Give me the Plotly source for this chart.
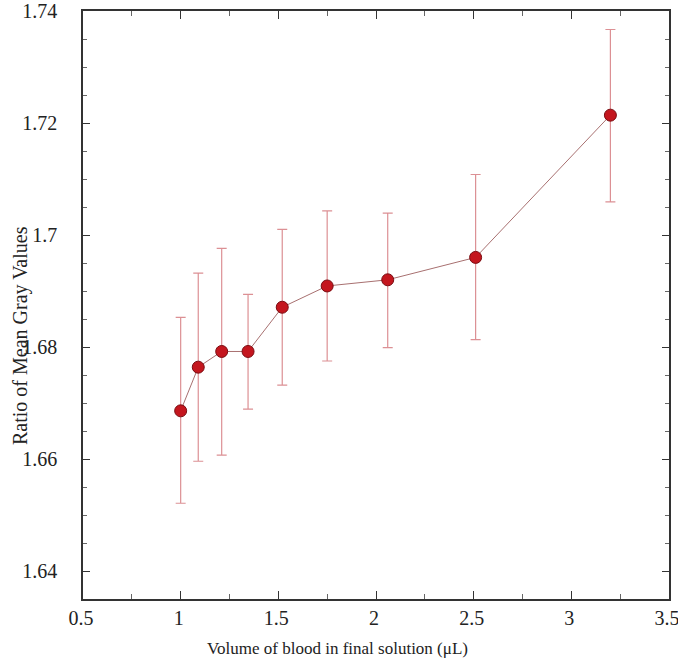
import plotly.graph_objects as go

volume_ul = [1.0, 1.09, 1.21, 1.345, 1.52, 1.75, 2.06, 2.51, 3.2]
ratio_mean = [1.6686, 1.6764, 1.6792, 1.6792, 1.6871, 1.6909, 1.6920, 1.6960, 1.7214]
err_upper = [1.6853, 1.6932, 1.6976, 1.6894, 1.7010, 1.7043, 1.7039, 1.7108, 1.7367]
err_lower = [1.6521, 1.6596, 1.6607, 1.6689, 1.6732, 1.6775, 1.6799, 1.6813, 1.7059]

x_title = "Volume of blood in final solution (μL)"
y_title = "Ratio of Mean Gray Values"

plus = [u - m for u, m in zip(err_upper, ratio_mean)]
minus = [m - l for m, l in zip(ratio_mean, err_lower)]

fig = go.Figure()
fig.add_trace(go.Scatter(
    x=volume_ul, y=ratio_mean, mode="lines+markers",
    line=dict(color="#a87070", width=1),
    marker=dict(color="#c4161e", size=12, line=dict(color="#7a0d12", width=1)),
    error_y=dict(type="data", symmetric=False, array=plus, arrayminus=minus,
                 color="#dc9094", thickness=1.2, width=5),
    showlegend=False,
))

axis_common = dict(
    showline=True, linecolor="#333333", linewidth=1.5, mirror="allticks",
    ticks="inside", tickcolor="#333333", showgrid=False, zeroline=False,
    automargin=False, ticklabeloverflow="allow",
    tickfont=dict(family="Liberation Serif", size=20, color="#222222"),
)

W, H = 678, 666
L, R, T, B = 83, 9, 11, 67
PX0, PX1, PY0, PY1 = L, W - R, T, H - B

fig.update_layout(
    width=W, height=H,
    margin=dict(l=L, r=R, t=T, b=B),
    paper_bgcolor="white", plot_bgcolor="white",
    font=dict(family="Liberation Serif", color="#222222"),
    xaxis=dict(range=[0.5, 3.5], dtick=0.5, tick0=0.5, ticklen=8, tickwidth=1.2,
               ticklabelshift=-2,
               minor=dict(dtick=0.25, tick0=0.5, ticks="inside", ticklen=5, tickcolor="#666666"),
               **axis_common),
    yaxis=dict(range=[1.635, 1.74], dtick=0.02, tick0=1.64, ticklen=7, tickwidth=1.2,
               ticklabelstandoff=20,
               minor=dict(dtick=0.005, tick0=1.64, ticks="inside", ticklen=4, tickcolor="#666666"),
               **axis_common),
    annotations=[
        dict(text=x_title, xref="paper", yref="paper",
             x=(337 - PX0) / (PX1 - PX0), y=-(648 - PY1) / (PY1 - PY0),
             xanchor="center", yanchor="middle", showarrow=False,
             font=dict(family="Liberation Serif", size=17, color="#222222")),
        dict(text=y_title, xref="paper", yref="paper", textangle=-90,
             x=(20 - PX0) / (PX1 - PX0), y=1 - (336 - PY0) / (PY1 - PY0),
             xanchor="center", yanchor="middle", showarrow=False,
             font=dict(family="Liberation Serif", size=20, color="#222222")),
    ],
)

fig.write_html("out.html", config={"displayModeBar": False},
               post_script="document.body.style.margin='0';")
